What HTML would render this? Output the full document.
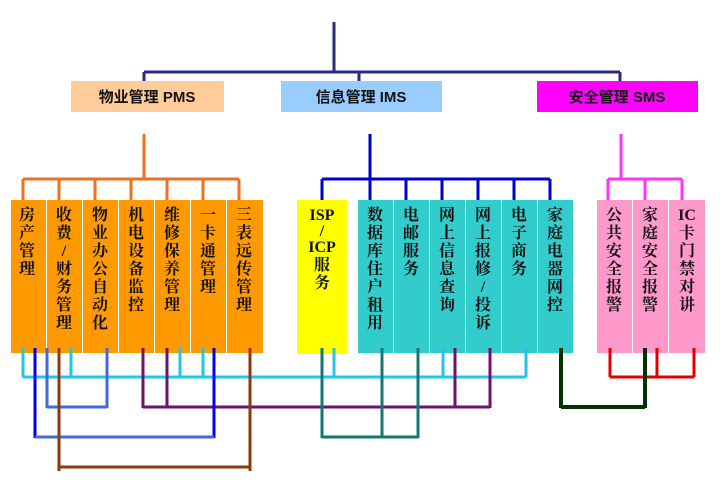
<!DOCTYPE html>
<html><head><meta charset="utf-8"><style>
html,body{margin:0;padding:0;background:#fff;width:725px;height:498px;overflow:hidden}
svg text{font-family:"Liberation Serif","Noto Serif CJK SC","Noto Sans CJK SC",serif;font-weight:bold;font-size:16px;fill:#111}
svg text.t{font-family:"Liberation Sans","Noto Sans CJK SC",sans-serif;font-size:15px;font-weight:bold}
</style></head><body>
<svg width="725" height="498" viewBox="0 0 725 498" xmlns="http://www.w3.org/2000/svg">
<g fill="none" stroke-width="3">
<path d="M334 22V72M144 72H620M144 72V97M359 72V97M620 72V97" stroke="#2a2a80"/>
<path d="M144 134V179M23 179H239M23 179V201M59 179V201M95 179V201M131 179V201M167 179V201M203 179V201M239 179V201" stroke="#F07020"/>
<path d="M370 134V179M322 179H550M322 179V201M370 179V201M406 179V201M442 179V201M478 179V201M514 179V201M550 179V201" stroke="#0000CC"/>
<path d="M621 134V179M608 179H682M608 179V201M645 179V201M682 179V201" stroke="#FF33FF"/>
</g>
<rect x="71" y="81" width="153" height="31" fill="#FFCC99"/>
<rect x="281" y="81" width="161" height="31" fill="#99CCFF"/>
<rect x="537" y="81" width="161" height="31" fill="#FF00FF"/>
<text class="t" x="147" y="102" text-anchor="middle">物业管理 PMS</text>
<text class="t" x="361" y="102" text-anchor="middle">信息管理 IMS</text>
<text class="t" x="617" y="102" text-anchor="middle">安全管理 SMS</text>
<g fill="#FF9900">
<rect x="11" y="200" width="35" height="153"/><rect x="47" y="200" width="35" height="153"/><rect x="83" y="200" width="35" height="153"/><rect x="119" y="200" width="35" height="153"/><rect x="155" y="200" width="35" height="153"/><rect x="191" y="200" width="35" height="153"/><rect x="227" y="200" width="36" height="153"/>
</g>
<rect x="297" y="200" width="50" height="154" fill="#FFFF00"/>
<g fill="#33CCCC">
<rect x="358" y="200" width="35" height="153"/><rect x="394" y="200" width="35" height="153"/><rect x="430" y="200" width="35" height="153"/><rect x="466" y="200" width="35" height="153"/><rect x="502" y="200" width="35" height="153"/><rect x="538" y="200" width="35" height="153"/>
</g>
<g fill="#FF99CC">
<rect x="597" y="200" width="35" height="153"/><rect x="633" y="200" width="35" height="153"/><rect x="669" y="200" width="36" height="153"/>
</g>
<g text-anchor="middle">
<text><tspan x="27" y="220">房</tspan><tspan x="27" dy="18">产</tspan><tspan x="27" dy="18">管</tspan><tspan x="27" dy="18">理</tspan></text>
<text><tspan x="64" y="220">收</tspan><tspan x="64" dy="18">费</tspan><tspan x="64" dy="18">/</tspan><tspan x="64" dy="18">财</tspan><tspan x="64" dy="18">务</tspan><tspan x="64" dy="18">管</tspan><tspan x="64" dy="18">理</tspan></text>
<text><tspan x="100" y="220">物</tspan><tspan x="100" dy="18">业</tspan><tspan x="100" dy="18">办</tspan><tspan x="100" dy="18">公</tspan><tspan x="100" dy="18">自</tspan><tspan x="100" dy="18">动</tspan><tspan x="100" dy="18">化</tspan></text>
<text><tspan x="136" y="220">机</tspan><tspan x="136" dy="18">电</tspan><tspan x="136" dy="18">设</tspan><tspan x="136" dy="18">备</tspan><tspan x="136" dy="18">监</tspan><tspan x="136" dy="18">控</tspan></text>
<text><tspan x="172" y="220">维</tspan><tspan x="172" dy="18">修</tspan><tspan x="172" dy="18">保</tspan><tspan x="172" dy="18">养</tspan><tspan x="172" dy="18">管</tspan><tspan x="172" dy="18">理</tspan></text>
<text><tspan x="208" y="220">一</tspan><tspan x="208" dy="18">卡</tspan><tspan x="208" dy="18">通</tspan><tspan x="208" dy="18">管</tspan><tspan x="208" dy="18">理</tspan></text>
<text><tspan x="244" y="220">三</tspan><tspan x="244" dy="18">表</tspan><tspan x="244" dy="18">远</tspan><tspan x="244" dy="18">传</tspan><tspan x="244" dy="18">管</tspan><tspan x="244" dy="18">理</tspan></text>
<text><tspan x="322" y="220">ISP</tspan><tspan x="322" dy="16">/</tspan><tspan x="322" dy="16">ICP</tspan><tspan x="322" dy="18">服</tspan><tspan x="322" dy="18">务</tspan></text>
<text><tspan x="375" y="220">数</tspan><tspan x="375" dy="18">据</tspan><tspan x="375" dy="18">库</tspan><tspan x="375" dy="18">住</tspan><tspan x="375" dy="18">户</tspan><tspan x="375" dy="18">租</tspan><tspan x="375" dy="18">用</tspan></text>
<text><tspan x="411" y="220">电</tspan><tspan x="411" dy="18">邮</tspan><tspan x="411" dy="18">服</tspan><tspan x="411" dy="18">务</tspan></text>
<text><tspan x="447" y="220">网</tspan><tspan x="447" dy="18">上</tspan><tspan x="447" dy="18">信</tspan><tspan x="447" dy="18">息</tspan><tspan x="447" dy="18">查</tspan><tspan x="447" dy="18">询</tspan></text>
<text><tspan x="483" y="220">网</tspan><tspan x="483" dy="18">上</tspan><tspan x="483" dy="18">报</tspan><tspan x="483" dy="18">修</tspan><tspan x="483" dy="18">/</tspan><tspan x="483" dy="18">投</tspan><tspan x="483" dy="18">诉</tspan></text>
<text><tspan x="519" y="220">电</tspan><tspan x="519" dy="18">子</tspan><tspan x="519" dy="18">商</tspan><tspan x="519" dy="18">务</tspan></text>
<text><tspan x="555" y="220">家</tspan><tspan x="555" dy="18">庭</tspan><tspan x="555" dy="18">电</tspan><tspan x="555" dy="18">器</tspan><tspan x="555" dy="18">网</tspan><tspan x="555" dy="18">控</tspan></text>
<text><tspan x="614" y="220">公</tspan><tspan x="614" dy="18">共</tspan><tspan x="614" dy="18">安</tspan><tspan x="614" dy="18">全</tspan><tspan x="614" dy="18">报</tspan><tspan x="614" dy="18">警</tspan></text>
<text><tspan x="650" y="220">家</tspan><tspan x="650" dy="18">庭</tspan><tspan x="650" dy="18">安</tspan><tspan x="650" dy="18">全</tspan><tspan x="650" dy="18">报</tspan><tspan x="650" dy="18">警</tspan></text>
<text><tspan x="687" y="220">IC</tspan><tspan x="687" dy="18">卡</tspan><tspan x="687" dy="18">门</tspan><tspan x="687" dy="18">禁</tspan><tspan x="687" dy="18">对</tspan><tspan x="687" dy="18">讲</tspan></text>
</g>
<g fill="none" stroke-width="3">
<path d="M23 348V377M71 348V377M180 348V377M203 348V377M334 348V377M443 348V377M526 348V377M23 377H526" stroke="#22C4EE"/>
<path d="M610 348V377M657 348V377M694 348V377M610 377H694" stroke="#E00000"/>
<path d="M47 348V408M107 348V408M47 407H107" stroke="#4169E1"/>
<path d="M143 348V408M167 348V408M455 348V408M490 348V408M143 407H490" stroke="#70106E"/>
<path d="M561 348V408M645 348V408M561 407H645" stroke="#003300" stroke-width="4"/>
<path d="M35 348V438M214 348V438" stroke="#0000EE"/>
<path d="M35 437H214" stroke="#4169E1"/>
<path d="M322 348V438M382 348V438M418 348V438M322 437H418" stroke="#137873"/>
<path d="M59 348V471M250 348V471M59 467H250" stroke="#8B3A10"/>
</g>
</svg>
</body></html>
